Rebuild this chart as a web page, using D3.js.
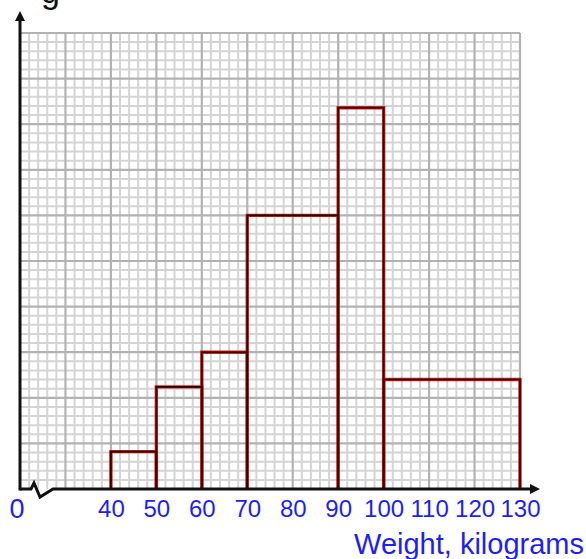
<!DOCTYPE html>
<html>
<head>
<meta charset="utf-8">
<script src="https://cdn.jsdelivr.net/npm/d3@7"></script>
<style>
  body { margin: 0; background: #fff; }
  svg { display: block; }
  .lbl { font-family: "Liberation Sans", Arial, sans-serif; fill: #1e1ef8; }
</style>
</head>
<body>
<div id="chart"></div>
<script>
// histogram classes (kg) and heights (small squares)
var classStart = [40, 50, 60, 70, 90, 100];
var classEnd   = [50, 60, 70, 90, 100, 130];
var heights    = [4.1, 11.2, 15, 30, 41.8, 12];
var tickValues = [40, 50, 60, 70, 80, 90, 100, 110, 120, 130];

var W = 586, H = 559;
var gLeft = 20, gRight = 520, gTop = 33, gBottom = 489;

var svg = d3.select('#chart').append('svg')
	.attr('width', W)
	.attr('height', H);

var x = d3.scaleLinear().domain([20, 130]).range([gLeft, gRight]);
var y = d3.scaleLinear().domain([0, 50]).range([gBottom, gTop]);

//grid - minor then major
var g = svg.append('g');
var minorX = d3.range(20, 131, 2), minorY = d3.range(0, 51, 1);

g.selectAll('.mx').data(minorX.filter(function(d){ return d % 10 !== 0; }))
	.enter().append('line')
	.attr('x1', function(d){ return x(d); }).attr('x2', function(d){ return x(d); })
	.attr('y1', gTop).attr('y2', gBottom)
	.style('stroke', '#d4d4d4').style('stroke-width', 2);

g.selectAll('.my').data(minorY.filter(function(d){ return d % 5 !== 0; }))
	.enter().append('line')
	.attr('x1', gLeft).attr('x2', gRight)
	.attr('y1', function(d){ return y(d); }).attr('y2', function(d){ return y(d); })
	.style('stroke', '#d4d4d4').style('stroke-width', 2);

g.selectAll('.Mx').data(d3.range(30, 131, 10))
	.enter().append('line')
	.attr('x1', function(d){ return x(d); }).attr('x2', function(d){ return x(d); })
	.attr('y1', gTop).attr('y2', gBottom)
	.style('stroke', '#b2b2b2').style('stroke-width', 2.2);

g.selectAll('.My').data(d3.range(5, 51, 5))
	.enter().append('line')
	.attr('x1', gLeft).attr('x2', gRight)
	.attr('y1', function(d){ return y(d); }).attr('y2', function(d){ return y(d); })
	.style('stroke', '#b2b2b2').style('stroke-width', 2.2);

//bars
var bars = svg.append('g');
var barPath = function(i){
	return 'M' + x(classStart[i]) + ',' + y(0) +
		'V' + y(heights[i]) +
		'H' + x(classEnd[i]) +
		'V' + y(0);
};
bars.selectAll('.r').data(heights).enter().append('path')
	.attr('d', function(d, i){ return barPath(i); })
	.style('fill', 'none').style('stroke', '#e41818').style('stroke-width', 3.4);
bars.selectAll('.k').data(heights).enter().append('path')
	.attr('d', function(d, i){ return barPath(i); })
	.style('fill', 'none').style('stroke', '#1a0000').style('stroke-width', 1.6);

//axes
var ax = svg.append('g').style('stroke', '#111').style('fill', 'none')
	.style('stroke-width', 3);
ax.append('line').attr('x1', gLeft).attr('x2', gLeft).attr('y1', gBottom + 1.5).attr('y2', 20);
svg.append('path').attr('d', 'M' + gLeft + ',11 L' + (gLeft - 5) + ',21 L' + (gLeft + 5) + ',21 Z')
	.style('fill', '#111');

ax.append('path')
	.attr('d', 'M' + gLeft + ',' + gBottom + ' H31 L34,483 L40,497 L53,' + gBottom + ' H530')
	.style('stroke-linejoin', 'miter');
svg.append('path').attr('d', 'M540,' + gBottom + ' L530,' + (gBottom - 5) + ' L530,' + (gBottom + 5) + ' Z')
	.style('fill', '#111');

//tick labels
var xAxis = d3.axisBottom(x).tickValues(tickValues).tickSize(0).tickPadding(0);
var xg = svg.append('g').attr('transform', 'translate(0,' + (gBottom + 10) + ')').call(xAxis);
xg.select('.domain').remove();
xg.selectAll('text')
	.attr('class', 'lbl')
	.attr('dy', '0.75em')
	.style('font-size', '24px')
	.attr('fill', '#1e1ef8');

svg.append('text').attr('class', 'lbl')
	.attr('x', 17).attr('y', 518)
	.attr('text-anchor', 'middle')
	.style('font-size', '27px')
	.text('0');

svg.append('text').attr('class', 'lbl')
	.attr('x', 584).attr('y', 554)
	.attr('text-anchor', 'end')
	.style('font-size', '29px')
	.text('Weight, kilograms');

//cut off glyph at top
svg.append('text')
	.attr('x', 41).attr('y', 3)
	.style('font-family', '"Liberation Sans", Arial, sans-serif')
	.style('font-size', '34px')
	.style('fill', '#111')
	.text('g');
</script>
</body>
</html>
